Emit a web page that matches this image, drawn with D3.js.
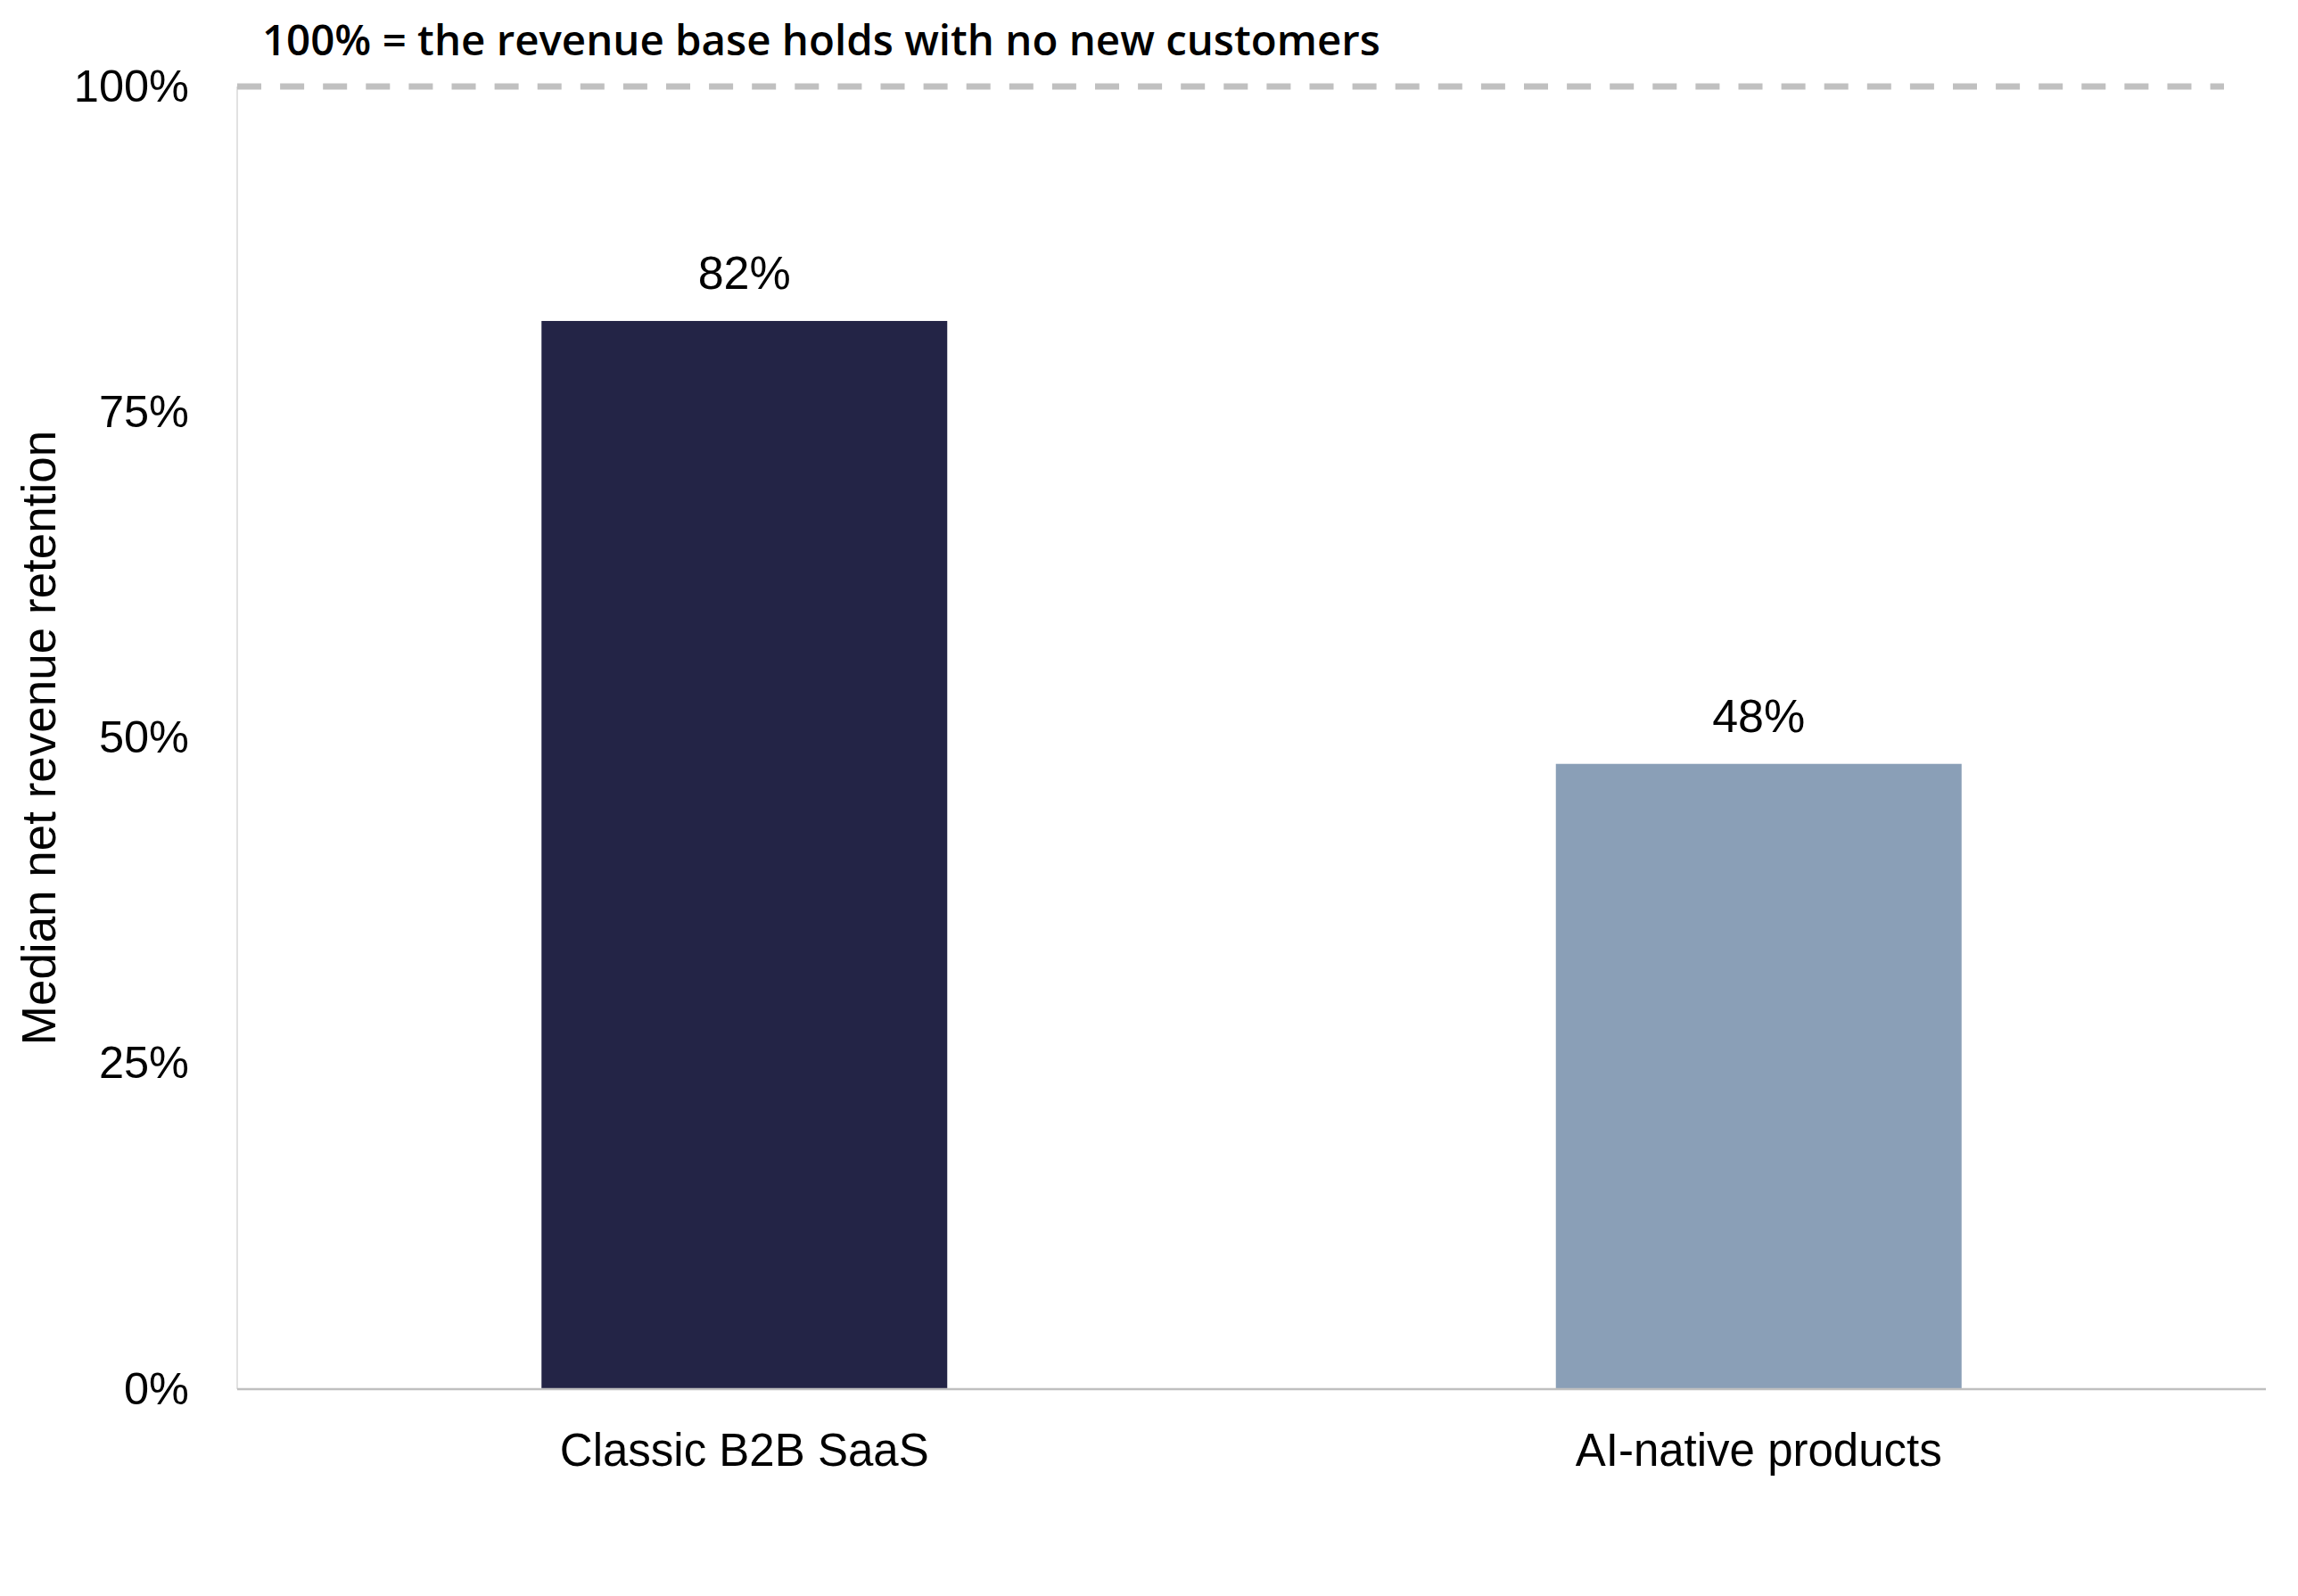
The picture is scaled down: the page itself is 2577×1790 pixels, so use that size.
<!DOCTYPE html>
<html>
<head>
<meta charset="utf-8">
<script src="https://cdn.jsdelivr.net/npm/d3@7"></script>
<style>
  html, body { margin: 0; padding: 0; background: #ffffff; }
  svg { display: block; }
</style>
</head>
<body>
<svg id="chart" width="2577" height="1790"></svg>
<script>
// ---- data ----
const categories = ["Classic B2B SaaS", "AI-native products"];
const retention = [82, 48];
const barColors = ["#232446", "#8a9fb7"];
const yTicks = [0, 25, 50, 75, 100];
const referenceValue = 100;
const referenceNote = "100% = the revenue base holds with no new customers";
const yTitle = "Median net revenue retention";

// ---- layout ----
const plotLeft = 266, plotRight = 2541, plotTop = 97, plotBottom = 1558;

const svg = d3.select("#chart");

const x = d3.scaleBand().domain(categories).range([plotLeft, plotRight])
  .paddingInner(0.6).paddingOuter(0.3);
const y = d3.scaleLinear().domain([0, 100]).range([plotBottom, plotTop]);

const tickFont = "'Liberation Sans', Arial, sans-serif";

// left axis line
svg.append("line")
  .attr("x1", plotLeft).attr("x2", plotLeft)
  .attr("y1", y(100)).attr("y2", y(0))
  .attr("stroke", "#d9d9d9").attr("stroke-width", 1.5);

// y axis ticks (labels only)
const yAxis = svg.append("g")
  .attr("transform", `translate(${plotLeft},0)`)
  .call(d3.axisLeft(y).tickValues(yTicks).tickSize(0).tickPadding(54)
    .tickFormat(d => d + "%"));
yAxis.select(".domain").remove();
yAxis.selectAll("text")
  .attr("font-family", tickFont)
  .attr("font-size", 50.5)
  .attr("fill", "#000");

// bars
svg.selectAll("rect.bar")
  .data(categories)
  .join("rect")
  .attr("class", "bar")
  .attr("x", d => x(d))
  .attr("width", x.bandwidth())
  .attr("y", (d, i) => y(retention[i]))
  .attr("height", (d, i) => y(0) - y(retention[i]))
  .attr("fill", (d, i) => barColors[i]);

// baseline
svg.append("line")
  .attr("x1", plotLeft).attr("x2", plotRight)
  .attr("y1", y(0)).attr("y2", y(0))
  .attr("stroke", "#bfbfbf").attr("stroke-width", 2.5);

// value labels
svg.selectAll("text.val")
  .data(categories)
  .join("text")
  .attr("class", "val")
  .attr("x", d => x(d) + x.bandwidth() / 2)
  .attr("y", (d, i) => y(retention[i]) - 36)
  .attr("text-anchor", "middle")
  .attr("font-family", tickFont)
  .attr("font-size", 52)
  .attr("fill", "#000")
  .text((d, i) => retention[i] + "%");

// category labels
svg.selectAll("text.cat")
  .data(categories)
  .join("text")
  .attr("class", "cat")
  .attr("x", d => x(d) + x.bandwidth() / 2)
  .attr("y", 1644)
  .attr("text-anchor", "middle")
  .attr("font-family", tickFont)
  .attr("font-size", 51)
  .attr("fill", "#000")
  .text(d => d);

// reference dashed line at 100%
svg.append("line")
  .attr("x1", plotLeft).attr("x2", 2494)
  .attr("y1", y(referenceValue)).attr("y2", y(referenceValue))
  .attr("stroke", "#c0c0c0").attr("stroke-width", 7)
  .attr("stroke-dasharray", "27 21.1");

// reference note
const note = svg.append("text")
  .attr("x", 294)
  .attr("y", 62)
  .attr("font-family", "'Open Sans', 'Noto Sans', sans-serif")
  .attr("font-weight", 600)
  .attr("font-size", 46)
  .attr("fill", "#000")
  .text(referenceNote);
const targetW = 1254;
const w0 = note.node().getComputedTextLength();
note.attr("font-size", 46 * targetW / w0);

// y title
svg.append("text")
  .attr("transform", `translate(62,${(plotTop + plotBottom) / 2}) rotate(-90)`)
  .attr("text-anchor", "middle")
  .attr("font-family", tickFont)
  .attr("font-size", 53)
  .attr("fill", "#000")
  .text(yTitle);
</script>
</body>
</html>
